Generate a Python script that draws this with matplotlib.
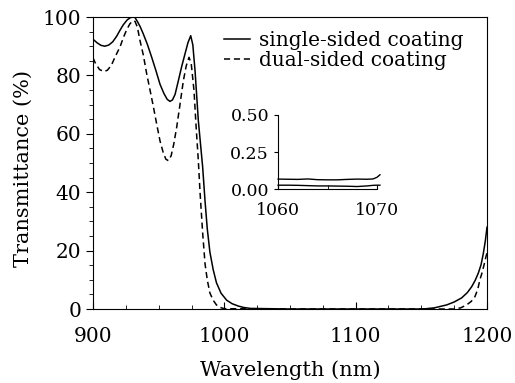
import matplotlib
matplotlib.use("Agg")
import matplotlib.pyplot as plt

# values
wl_single = [900, 903, 906, 909, 912, 915, 918, 920.6, 923, 926, 928.5, 930.7, 932, 934,
             936, 938.3, 941.5, 944.7, 948, 951, 954, 956.5, 958.6, 960.5, 962.5, 965,
             967.5, 970, 972.3, 974.4, 976, 977.7, 980.2, 983.5, 985.3, 987, 989, 991.5,
             994, 997.5, 1001.8, 1006, 1010.7, 1015, 1020, 1050, 1100, 1151.5, 1160,
             1169.3, 1175, 1180.7, 1185, 1188.3, 1191, 1193.4, 1195.5, 1197.2, 1198.8, 1200]
t_single = [92.4, 91.2, 90.3, 90, 90.4, 91.5, 93.4, 95.5, 97.3, 99, 99.8, 100, 99.8, 98.3,
            96.6, 94.2, 90.5, 86.2, 81.5, 77, 73.8, 71.8, 71.1, 71.6, 73.5, 78.2,
            83, 87.3, 91.2, 93.6, 90.5, 81.6, 64.5, 48.6, 37, 27.5, 19.5, 13.5,
            9, 5.4, 3, 1.8, 1, 0.5, 0.2, 0, 0, 0, 0.4,
            1.4, 2.4, 3.8, 5.6, 7.6, 9.8, 12.3, 15.2, 19, 23.5, 28]

wl_dual = [900, 902, 905, 908.4, 911, 914, 917, 920.6, 923, 925.5, 928, 930.2, 932, 933.8,
           935.8, 938.3, 940.9, 943.5, 946, 948.5, 951, 953.5, 955.5, 957.4, 959.5,
           961.5, 963.7, 966, 968.8, 971, 973.1, 974.8, 976.9, 978.5, 980.2, 981.5, 983.5,
           985.3, 987, 989, 991.5, 994, 997, 1000, 1050, 1100, 1150, 1175.6,
           1180, 1184.5, 1188, 1190.8, 1193, 1194.6, 1196.3, 1197.7, 1199, 1200]
t_dual = [86, 84, 82, 81.3, 81.8, 83.5, 86.5, 89.8, 92.8, 95.5, 97.6, 98.7, 98.5, 96.5,
          91.9, 87, 80.5, 74.8, 69.2, 63.3, 57.6, 53.5, 51.3, 50.8, 52.5,
          56.5, 62.2, 69.3, 78.2, 83.3, 86.2, 84, 74.8, 62.5, 50.8, 40, 26,
          15.5, 10, 5.5, 3, 1.4, 0.5, 0.1, 0, 0, 0, 0,
          0.4, 1.4, 2.6, 4.2, 6.8, 10, 12.5, 15, 17.5, 19.3]

wl_zoom = [1060, 1061, 1062, 1063, 1064, 1065, 1066, 1067, 1068, 1069, 1069.6, 1070, 1070.3]
t_zoom_single = [0.068, 0.067, 0.066, 0.069, 0.064, 0.063, 0.063, 0.066, 0.068, 0.067, 0.069, 0.08, 0.097]
t_zoom_dual = [0.027, 0.027, 0.026, 0.024, 0.022, 0.022, 0.021, 0.020, 0.018, 0.022, 0.026, 0.027, 0.027]

labels = ["single-sided coating", "dual-sided coating"]

plt.rcParams["font.family"] = "DejaVu Serif"

fig = plt.figure(figsize=(5.15, 3.83), dpi=100)
ax = fig.add_axes([0.1806, 0.1932, 0.765, 0.7624])

ax.plot(wl_single, t_single, color="black", lw=1.1, label=labels[0])
ax.plot(wl_dual, t_dual, color="black", lw=1.1, dashes=(4, 2.5), label=labels[1])

ax.set_xlim(900, 1200)
ax.set_ylim(0, 100)
ax.set_xticks([900, 1000, 1100, 1200])
ax.set_xticks(range(900, 1201, 25), minor=True)
ax.set_yticks(range(0, 101, 20))
ax.set_yticks(range(0, 101, 5), minor=True)
ax.tick_params(axis="x", which="both", direction="in", labelsize=14.5, pad=13)
ax.tick_params(axis="x", which="major", length=5)
ax.tick_params(axis="x", which="minor", length=3)
ax.tick_params(axis="y", which="both", direction="out", labelsize=14.5)
ax.tick_params(axis="y", which="major", length=5)
ax.tick_params(axis="y", which="minor", length=3)
ax.set_xlabel("Wavelength (nm)", fontsize=15, labelpad=10)
ax.set_ylabel("Transmittance (%)", fontsize=15)
ax.yaxis.set_label_coords(-0.152, 0.48)

ax.legend(loc="upper left", bbox_to_anchor=(0.435, 0.92), bbox_transform=fig.transFigure,
          frameon=False, fontsize=14.5, handlelength=1.3, handletextpad=0.45,
          borderpad=0, borderaxespad=0, labelspacing=0.08)

# inset
axin = fig.add_axes([0.540, 0.506, 0.192, 0.194])
axin.plot(wl_zoom, t_zoom_single, color="black", lw=1.0, clip_on=False)
axin.plot(wl_zoom, t_zoom_dual, color="black", lw=1.0, clip_on=False)
axin.set_xlim(1060, 1070)
axin.set_ylim(0, 0.5)
axin.set_xticks([1060, 1070])
axin.set_xticks([1065], minor=True)
axin.set_yticks([0, 0.25, 0.5])
axin.set_yticklabels(["0.00", "0.25", "0.50"])
axin.spines["top"].set_visible(False)
axin.spines["right"].set_visible(False)
axin.patch.set_alpha(0)
axin.tick_params(axis="x", which="both", direction="in", length=3, labelsize=12.5, pad=9)
axin.tick_params(axis="y", direction="out", length=3, labelsize=12.5)

fig.savefig("out.png", dpi=100)
